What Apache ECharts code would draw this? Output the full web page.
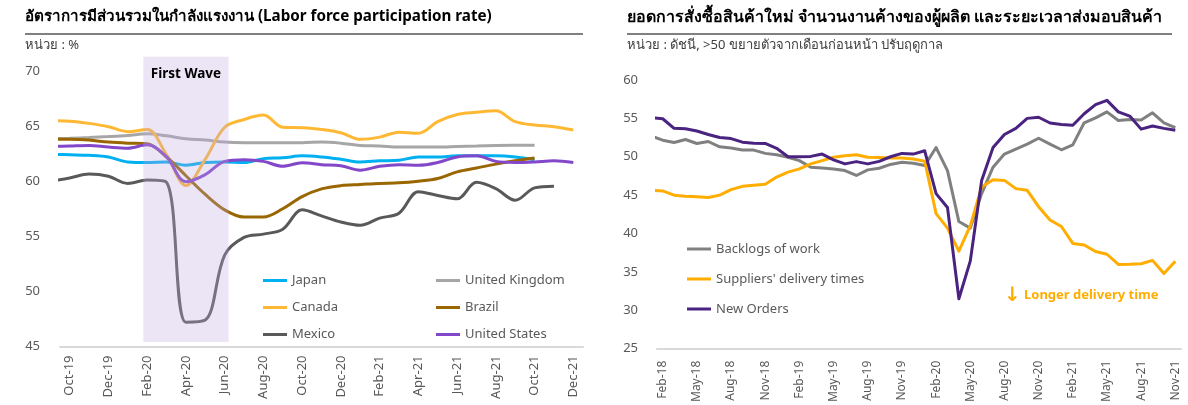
<!DOCTYPE html>
<html>
<head>
<meta charset="utf-8">
<script src="https://cdn.jsdelivr.net/npm/echarts@6/dist/echarts.min.js"></script>
<style>
  html, body { margin: 0; padding: 0; background: #fff; }
  #chart { width: 1188px; height: 405px; }
</style>
</head>
<body>
<div id="chart"></div>
<script>
/* Left: labour force participation (%), monthly Sep-19..Dec-21 (Sep-19 sits just left of the axis and is clipped) */
const lfMonths = ['Sep-19', 'Oct-19', 'Nov-19', 'Dec-19', 'Jan-20', 'Feb-20', 'Mar-20', 'Apr-20', 'May-20',
  'Jun-20', 'Jul-20', 'Aug-20', 'Sep-20', 'Oct-20', 'Nov-20', 'Dec-20', 'Jan-21', 'Feb-21', 'Mar-21',
  'Apr-21', 'May-21', 'Jun-21', 'Jul-21', 'Aug-21', 'Sep-21', 'Oct-21', 'Nov-21', 'Dec-21'];
const lfTickLabels = ['Oct-19', 'Dec-19', 'Feb-20', 'Apr-20', 'Jun-20', 'Aug-20', 'Oct-20', 'Dec-20',
  'Feb-21', 'Apr-21', 'Jun-21', 'Aug-21', 'Oct-21', 'Dec-21'];
const japan = [62.45, 62.4, 62.35, 62.2, 61.75, 61.7, 61.75, 61.45, 61.7, 61.75, 61.7, 62.05, 62.12,
  62.3, 62.2, 62.0, 61.75, 61.85, 61.9, 62.2, 62.2, 62.3, 62.3, 62.3, 62.2, 61.95];
const unitedKingdom = [63.85, 63.9, 63.97, 64.05, 64.15, 64.3, 64.12, 63.85, 63.73, 63.55, 63.5, 63.5,
  63.5, 63.5, 63.55, 63.45, 63.25, 63.2, 63.1, 63.1, 63.1, 63.15, 63.2, 63.25, 63.27, 63.27];
const canada = [65.5, 65.45, 65.25, 64.95, 64.5, 64.7, 62.4, 59.6, 62.0, 64.9, 65.6, 66.0, 64.9, 64.85,
  64.7, 64.4, 63.8, 64.0, 64.45, 64.35, 65.4, 66.05, 66.25, 66.4, 65.4, 65.1, 64.95, 64.65];
const brazil = [63.8, 63.8, 63.73, 63.55, 63.45, 63.4, 62.2, 60.5, 58.8, 57.4, 56.75, 56.75, 57.5, 58.6,
  59.3, 59.6, 59.7, 59.8, 59.85, 60.0, 60.25, 60.85, 61.2, 61.55, 61.85, 62.1];
const mexico = [60.0, 60.3, 60.65, 60.45, 59.8, 60.1, 59.9, 47.2, 47.4, 53.3, 54.9, 55.2, 55.65, 57.4,
  56.85, 56.3, 56.0, 56.65, 57.1, 59.05, 58.7, 58.4, 59.9, 59.33, 58.27, 59.4, 59.55];
const unitedStates = [63.15, 63.2, 63.25, 63.1, 63.0, 63.3, 62.2, 59.95, 60.6, 61.8, 61.95, 61.8, 61.36,
  61.67, 61.5, 61.4, 61.0, 61.35, 61.5, 61.45, 61.7, 62.2, 62.3, 61.8, 61.7, 61.75, 61.85, 61.7];
const firstWave = ['Feb-20', 'Jun-20'];

/* Right: PMI sub-indices, monthly Jan-18..Nov-21 (Jan-18 clipped at the axis edge) */
const pmiMonths = [];
['18', '19', '20', '21'].forEach((y) => ['Jan', 'Feb', 'Mar', 'Apr', 'May', 'Jun', 'Jul', 'Aug', 'Sep',
  'Oct', 'Nov', 'Dec'].forEach((m) => pmiMonths.push(m + '-' + y)));
pmiMonths.pop();   // stops at Nov-21
const pmiTickLabels = ['Feb-18', 'May-18', 'Aug-18', 'Nov-18', 'Feb-19', 'May-19', 'Aug-19', 'Nov-19',
  'Feb-20', 'May-20', 'Aug-20', 'Nov-20', 'Feb-21', 'May-21', 'Aug-21', 'Nov-21'];
const backlogs = [52.7, 52.16, 51.86, 52.25, 51.73, 51.99, 51.3, 51.13, 50.87, 50.87, 50.44, 50.26,
  49.93, 49.5, 48.64, 48.55, 48.42, 48.2, 47.56, 48.29, 48.51, 49.0, 49.28, 49.15,
  48.85, 51.2, 48.2, 41.56, 40.7, 45.2, 48.64, 50.35, 51.0, 51.64, 52.41, 51.64,
  50.91, 51.55, 54.43, 55.07, 55.85, 54.73, 54.86, 54.78, 55.72, 54.43, 53.79];
const deliveryTimes = [45.63, 45.55, 45.0, 44.86, 44.78, 44.7, 45.0, 45.72, 46.15, 46.28, 46.41, 47.35,
  48.0, 48.42, 49.07, 49.5, 49.93, 50.14, 50.26, 49.93, 49.9, 49.84, 49.84, 49.71,
  49.41, 42.6, 40.7, 37.7, 41.0, 46.07, 47.0, 46.92, 45.85, 45.63, 43.5, 41.77,
  40.92, 38.71, 38.5, 37.65, 37.3, 35.98, 36.0, 36.07, 36.5, 34.78, 36.4];
const newOrders = [55.1, 54.95, 53.7, 53.65, 53.35, 52.9, 52.5, 52.37, 51.9, 51.75, 51.73, 51.1,
  50.0, 50.0, 50.05, 50.35, 49.6, 49.07, 49.37, 49.07, 49.4, 50.0, 50.44, 50.35,
  50.78, 45.2, 43.4, 31.5, 36.4, 46.9, 51.2, 52.9, 53.7, 55.0, 55.15, 54.4,
  54.2, 54.1, 55.6, 56.8, 57.35, 55.85, 55.3, 53.6, 54.0, 53.7, 53.45];

const FONT = "'Noto Sans', 'DejaVu Sans', sans-serif";
const AXIS_TXT = '#595959';

// month name -> x position; first tick label sits at 0
const lfPos = (m) => lfMonths.indexOf(m) - lfMonths.indexOf(lfTickLabels[0]);
const pmiPos = (m) => pmiMonths.indexOf(m) - pmiMonths.indexOf(pmiTickLabels[0]);
const lfPts = (vals) => vals.map((v, i) => [lfPos(lfMonths[i]), v]);
const pmiPts = (vals) => vals.map((v, i) => [pmiPos(pmiMonths[i]), v]);

function xAxisFor(gridIndex, ticks, pos, last, fontSize, margin) {
  return {
    type: 'value', gridIndex, min: -0.5, max: pos(last) + 0.5,
    axisLine: { show: true, onZero: false, lineStyle: { color: '#d9d9d9', width: 2 } },
    axisTick: { show: false },
    splitLine: { show: false },
    axisLabel: {
      customValues: ticks.map(pos), rotate: 90, margin,
      color: AXIS_TXT, fontSize, fontFamily: FONT,
      formatter: (v) => ticks[ticks.map(pos).indexOf(v)] || ''
    }
  };
}

function yAxisFor(gridIndex, min, max, margin) {
  return {
    type: 'value', gridIndex, min, max, interval: 5,
    axisLine: { show: false }, axisTick: { show: false }, splitLine: { show: false },
    axisLabel: { color: AXIS_TXT, fontSize: 13, fontFamily: FONT, margin,
      // the left axis runs a little past 70 so the First Wave band can overhang; label only the 5-steps
      formatter: (v) => (v % 5 === 0 ? String(v) : '') }
  };
}

const lfLine = (name, vals, color) => ({
  name, type: 'line', xAxisIndex: 0, yAxisIndex: 0, data: lfPts(vals),
  smooth: 0.35, showSymbol: false, symbol: 'none', clip: true,
  lineStyle: { color, width: 3 }, itemStyle: { color }
});
const pmiLine = (name, vals, color) => ({
  name, type: 'line', xAxisIndex: 1, yAxisIndex: 1, data: pmiPts(vals),
  showSymbol: false, symbol: 'none', clip: true,
  lineStyle: { color, width: 3, join: 'round' }, itemStyle: { color }
});

const legendBase = {
  orient: 'vertical', icon: 'rect', itemWidth: 24, itemHeight: 3, selectedMode: false, padding: 0,
  textStyle: { color: AXIS_TXT, fontSize: 13, fontFamily: FONT }
};

const chart = echarts.init(document.getElementById('chart'));
chart.setOption({
  animation: false,
  textStyle: { fontFamily: FONT },
  grid: [
    { left: 60, right: 605, top: 56.7, bottom: 58.5 },
    { left: 657, right: 7, top: 80, bottom: 53 }
  ],
  xAxis: [
    xAxisFor(0, lfTickLabels, lfPos, 'Dec-21', 13, 9),
    xAxisFor(1, pmiTickLabels, pmiPos, 'Nov-21', 12, 12)
  ],
  yAxis: [yAxisFor(0, 45, 71.3, 20), yAxisFor(1, 25, 60, 19)],
  legend: [
    { ...legendBase, left: 263, top: 274, itemGap: 14, data: ['Japan', 'Canada', 'Mexico'] },
    { ...legendBase, left: 436, top: 274, itemGap: 14, data: ['United Kingdom', 'Brazil', 'United States'] },
    { ...legendBase, left: 687, top: 242.5, itemGap: 17, data: ['Backlogs of work', "Suppliers' delivery times", 'New Orders'] }
  ],
  graphic: [
    { type: 'text', left: 25, top: 9, style: { text: 'อัตราการมีส่วนรวมในกำลังแรงงาน (Labor force participation rate)',
      font: 'bold 15.2px ' + FONT, fill: '#000' } },
    { type: 'line', shape: { x1: 25, y1: 34, x2: 583, y2: 34 }, style: { stroke: '#808080', lineWidth: 2 } },
    { type: 'text', left: 25, top: 39, style: { text: 'หน่วย : %', font: '13px ' + FONT, fill: '#404040' } },
    { type: 'text', left: 627, top: 9, style: { text: 'ยอดการสั่งซื้อสินค้าใหม่ จำนวนงานค้างของผู้ผลิต และระยะเวลาส่งมอบสินค้า',
      font: 'bold 16px ' + FONT, fill: '#000' } },
    { type: 'line', shape: { x1: 627, y1: 34, x2: 1172, y2: 34 }, style: { stroke: '#808080', lineWidth: 2 } },
    { type: 'text', left: 627, top: 39, style: { text: 'หน่วย : ดัชนี, >50 ขยายตัวจากเดือนก่อนหน้า ปรับฤดูกาล',
      font: '13px ' + FONT, fill: '#404040' } },
    { type: 'text', left: 1004, top: 286, style: { text: '↓', font: 'bold 20px DejaVu Sans', fill: '#FFAD00' } },
    { type: 'text', left: 1024, top: 289, style: { text: 'Longer delivery time', font: 'bold 13px ' + FONT, fill: '#FFAD00' } }
  ],
  series: [
    lfLine('Japan', japan, '#00B0F0'),
    lfLine('United Kingdom', unitedKingdom, '#A6A6A6'),
    lfLine('Canada', canada, '#FFB833'),
    lfLine('Brazil', brazil, '#996600'),
    lfLine('Mexico', mexico, '#595959'),
    lfLine('United States', unitedStates, '#8347C9'),
    {
      // translucent "First Wave" band drawn over the lines
      type: 'line', xAxisIndex: 0, yAxisIndex: 0, data: [], z: 10,
      markArea: {
        silent: true, z: 10,
        itemStyle: { color: 'rgba(190,170,225,0.3)' },
        label: { show: true, position: 'insideTop', distance: 10, color: '#000',
          fontSize: 13.5, fontWeight: 'bold', fontFamily: FONT },
        data: [[
          { name: 'First Wave', xAxis: lfPos(firstWave[0]) - 0.2, yAxis: 45.4 },
          { xAxis: lfPos(firstWave[1]) + 0.2, yAxis: 71.3 }
        ]]
      }
    },
    pmiLine('Backlogs of work', backlogs, '#808080'),
    pmiLine("Suppliers' delivery times", deliveryTimes, '#FFAD00'),
    pmiLine('New Orders', newOrders, '#4A2380')
  ]
});
</script>
</body>
</html>
